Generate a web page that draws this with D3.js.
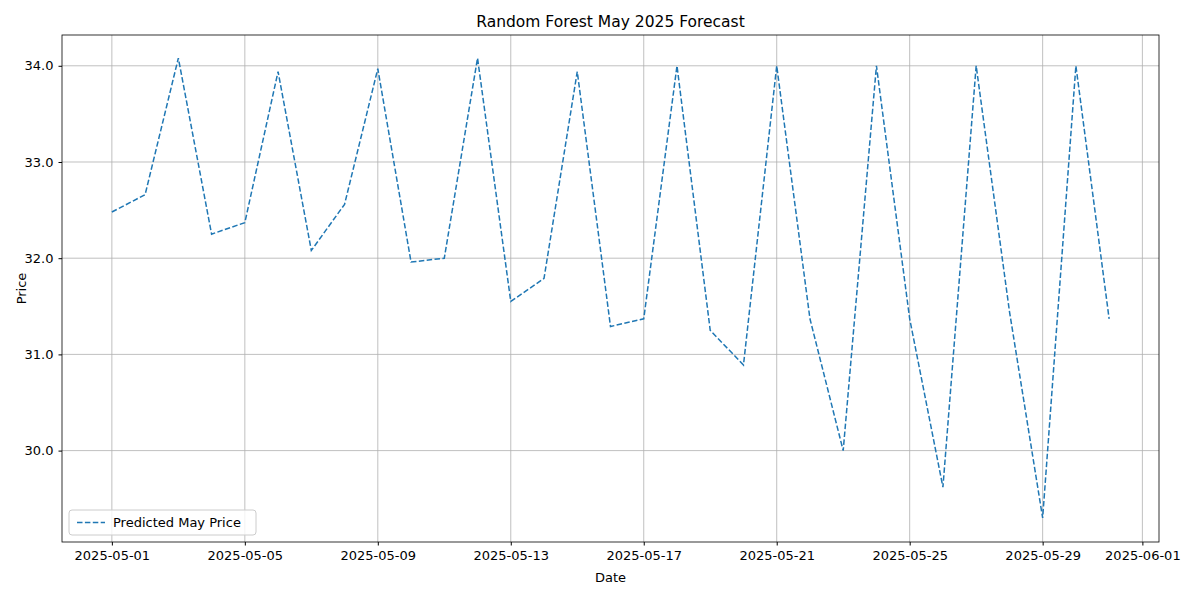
<!DOCTYPE html>
<html>
<head>
<meta charset="utf-8">
<script src="https://cdn.jsdelivr.net/npm/d3@7"></script>
<style>
body { margin: 0; background: #fff; }
text { font-family: "DejaVu Sans", sans-serif; }
</style>
</head>
<body>
<svg width="1200" height="600"></svg>
<script>
const days = d3.range(1, 32);
const prices = [32.48, 32.66, 34.08, 32.25, 32.37, 33.94, 32.08, 32.56, 33.97, 31.96,
    32.00, 34.08, 31.55, 31.79, 33.94, 31.29, 31.37, 34.00, 31.25, 30.89,
    34.00, 31.37, 30.00, 34.00, 31.37, 29.62, 34.00, 31.45, 29.30, 34.00, 31.37];
const yTicks = [30, 31, 32, 33, 34];
const xTickDays = [[5, 1], [5, 5], [5, 9], [5, 13], [5, 17], [5, 21], [5, 25], [5, 29], [6, 1]];

const svg = d3.select("svg");
const mLeft = 62, mRight = 1159, mTop = 35, mBottom = 542;

const x = d3.scaleTime()
    .domain([new Date(2025, 3, 29, 12), new Date(2025, 5, 1, 12)])
    .range([mLeft, mRight]);
const y = d3.scaleLinear().domain([29.05, 34.32]).range([mBottom, mTop]);

const xTicks = xTickDays.map(d => new Date(2025, d[0] - 1, d[1]));
const fmt = d3.timeFormat("%Y-%m-%d");

// grid
svg.append("g").selectAll("line").data(xTicks).enter().append("line")
    .attr("x1", d => x(d)).attr("x2", d => x(d))
    .attr("y1", mTop).attr("y2", mBottom)
    .attr("stroke", "#b0b0b0").attr("stroke-width", 0.8);
svg.append("g").selectAll("line").data(yTicks).enter().append("line")
    .attr("x1", mLeft).attr("x2", mRight)
    .attr("y1", d => y(d)).attr("y2", d => y(d))
    .attr("stroke", "#b0b0b0").attr("stroke-width", 0.8);

// axes
const xAxis = svg.append("g").attr("transform", `translate(0,${mBottom})`)
    .call(d3.axisBottom(x).tickValues(xTicks).tickFormat(fmt).tickSize(3.5).tickPadding(5));
const yAxis = svg.append("g").attr("transform", `translate(${mLeft},0)`)
    .call(d3.axisLeft(y).tickValues(yTicks).tickSize(3.5).tickPadding(5));
[xAxis, yAxis].forEach(a => {
    a.select(".domain").remove();
    a.selectAll("text").style("font-size", "13px").attr("fill", "#000")
        .style("font-family", "DejaVu Sans, sans-serif");
    a.selectAll("line").attr("stroke", "#000");
});

// line
const line = d3.line()
    .x((d, i) => x(new Date(2025, 4, days[i])))
    .y(d => y(d));
svg.append("path").datum(prices)
    .attr("d", line)
    .attr("fill", "none")
    .attr("stroke", "#1f77b4")
    .attr("stroke-width", 1.5)
    .attr("stroke-dasharray", "5.5,2.4");

// frame
svg.append("rect").attr("x", mLeft).attr("y", mTop)
    .attr("width", mRight - mLeft).attr("height", mBottom - mTop)
    .attr("fill", "none").attr("stroke", "#000").attr("stroke-width", 0.8);

// titles
svg.append("text").attr("x", (mLeft + mRight) / 2).attr("y", 27)
    .attr("text-anchor", "middle").style("font-size", "15.5px").text("Random Forest May 2025 Forecast");
svg.append("text").attr("x", (mLeft + mRight) / 2).attr("y", 582)
    .attr("text-anchor", "middle").style("font-size", "13px").text("Date");
svg.append("text").attr("transform", `translate(26,${(mTop + mBottom) / 2}) rotate(-90)`)
    .attr("text-anchor", "middle").style("font-size", "13px").text("Price");

// legend
const lg = svg.append("g").attr("transform", "translate(69,510)");
lg.append("rect").attr("width", 187).attr("height", 25).attr("rx", 3)
    .attr("fill", "#fff").attr("fill-opacity", 0.8).attr("stroke", "#ccc");
lg.append("line").attr("x1", 8).attr("x2", 36).attr("y1", 12.5).attr("y2", 12.5)
    .attr("stroke", "#1f77b4").attr("stroke-width", 1.5).attr("stroke-dasharray", "5.5,2.4");
lg.append("text").attr("x", 44).attr("y", 17).style("font-size", "13px").text("Predicted May Price");
</script>
</body>
</html>
